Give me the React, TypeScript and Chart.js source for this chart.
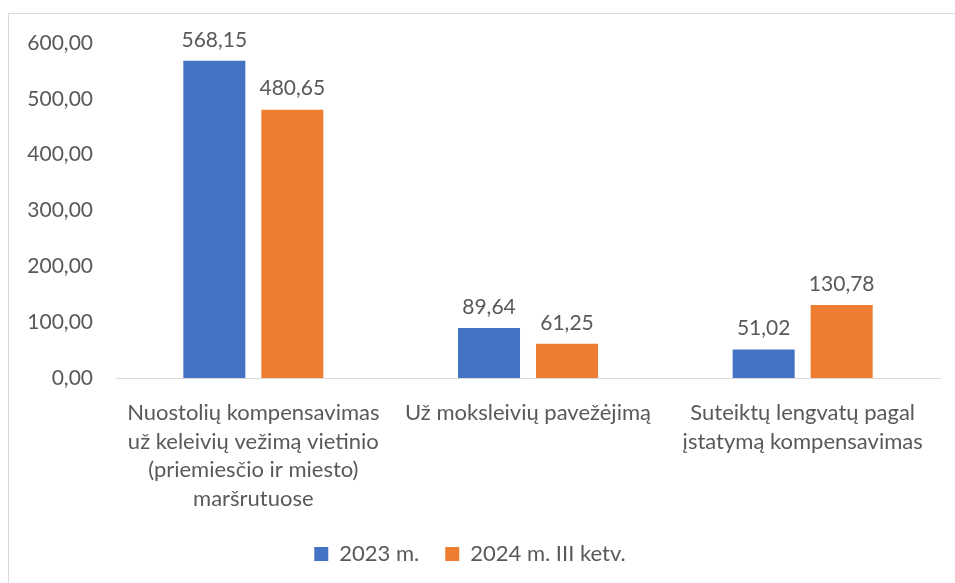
import React, { useEffect, useRef } from "react";
import { Chart, registerables } from "chart.js";

Chart.register(...registerables);

const categories: string[][] = [
  ["Nuostolių kompensavimas", "už keleivių vežimą vietinio", "(priemiesčio ir miesto)", "maršrutuose"],
  ["Už moksleivių pavežėjimą"],
  ["Suteiktų lengvatų pagal", "įstatymą kompensavimas"],
];
const seriesNames = ["2023 m.", "2024 m. III ketv."];
const values2023 = [568.15, 89.64, 51.02];
const values2024 = [480.65, 61.25, 130.78];
const yMin = 0;
const yMax = 600;
const yStep = 100;

const FONT = "Lato, 'Open Sans', sans-serif";
const FONT_SIZE = 21;
const TEXT_SIZE = 22;
const TEXT = "#595959";
const BLUE = "#4472C4";
const ORANGE = "#ED7D31";
const AXIS = "#d9d9d9";

const fmt = (v: number) => v.toFixed(2).replace(".", ",");

const valueLabels = {
  id: "valueLabels",
  afterDatasetsDraw(chart: any) {
    const ctx = chart.ctx;
    ctx.save();
    ctx.font = `${FONT_SIZE}px ${FONT}`;
    ctx.fillStyle = TEXT;
    ctx.textAlign = "center";
    ctx.textBaseline = "middle";
    chart.data.datasets.forEach((ds: any, i: number) => {
      chart.getDatasetMeta(i).data.forEach((bar: any, j: number) => {
        ctx.fillText(fmt(ds.data[j]), bar.x, bar.y - 21);
      });
    });
    ctx.restore();
  },
};

export default function App() {
  const ref = useRef<HTMLCanvasElement | null>(null);
  useEffect(() => {
    if (!ref.current) return;
    const chart = new Chart(ref.current, {
      type: "bar",
      data: {
        labels: categories,
        datasets: [
          { label: seriesNames[0], data: values2023, backgroundColor: BLUE },
          { label: seriesNames[1], data: values2024, backgroundColor: ORANGE },
        ],
      },
      options: {
        animation: false,
        responsive: false,
        maintainAspectRatio: false,
        layout: { padding: { top: 43, right: 15, bottom: 8, left: 0 } },
        datasets: { bar: { categoryPercentage: 0.568, barPercentage: 0.795 } },
        plugins: {
          tooltip: { enabled: false },
          legend: {
            position: "bottom",
            labels: {
              boxWidth: 14,
              boxHeight: 14,
              padding: 26,
              color: TEXT,
              font: { size: TEXT_SIZE, family: FONT },
            },
          },
        },
        scales: {
          x: {
            grid: { display: false },
            border: { display: true, color: AXIS, width: 1 },
            ticks: {
              color: TEXT,
              font: { size: TEXT_SIZE, family: FONT, lineHeight: 28.5 / TEXT_SIZE },
              padding: 13,
              maxRotation: 0,
              autoSkip: false,
            },
            afterFit: (s: any) => {
              s.height = 139;
            },
          },
          y: {
            min: yMin,
            max: yMax,
            grid: { display: false, drawTicks: false },
            border: { display: false },
            ticks: {
              stepSize: yStep,
              color: TEXT,
              padding: 23,
              font: { size: FONT_SIZE, family: FONT },
              callback: (v: any) => fmt(Number(v)),
            },
            afterFit: (s: any) => {
              s.width = 116;
            },
          },
        },
      },
      plugins: [valueLabels],
    });
    return () => chart.destroy();
  }, []);

  return (
    <>
      <div
        style={{
          position: "fixed",
          left: 8,
          top: 13,
          right: 0,
          bottom: 0,
          borderLeft: "1px solid #d9d9d9",
          borderTop: "1px solid #d9d9d9",
          background: "#fff",
        }}
      />
      <canvas
        ref={ref}
        width={955}
        height={583}
        style={{ position: "fixed", left: 0, top: 0, width: 955, height: 583 }}
      />
    </>
  );
}
